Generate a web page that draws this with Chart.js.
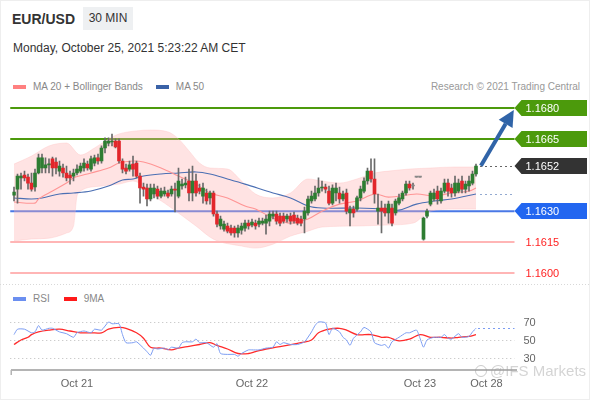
<!DOCTYPE html>
<html>
<head>
<meta charset="utf-8">
<script src="https://cdn.jsdelivr.net/npm/chart.js@4.4.0/dist/chart.umd.min.js"></script>
<style>
  body { margin: 0; background: #fff; font-family: "Liberation Sans", Arial, sans-serif; }
  #wrap { position: relative; width: 590px; height: 400px; overflow: hidden; box-shadow: inset 0 0 0 1px #eee; }
  .abs { position: absolute; white-space: nowrap; }
  .title { left: 12px; top: 12px; font-weight: bold; font-size: 14px; line-height: 14px; color: #333; }
  .tf { left: 83px; top: 7px; width: 50px; height: 23px; line-height: 23px; text-align: center; font-size: 12px; color: #333; background: #eef0f2; }
  .date { left: 13px; top: 42px; font-size: 12px; line-height: 12px; color: #333; }
  .leg { font-size: 10px; line-height: 12px; color: #888; display: flex; align-items: center; }
  .sw { display: inline-block; width: 13px; height: 4px; margin-right: 7px; }
  .wm { left: 475px; top: 362px; font-size: 15px; line-height: 18px; color: rgba(160,160,160,0.45); display: flex; align-items: center; }
  .wm i { display: inline-block; width: 10px; height: 10px; border: 1.5px solid rgba(160,160,160,0.55); border-radius: 50%; margin-right: 3px; }
  canvas { position: absolute; left: 0; }
</style>
</head>
<body>
<div id="wrap">
  <div class="abs title">EUR/USD</div>
  <div class="abs tf">30 MIN</div>
  <div class="abs date">Monday, October 25, 2021 5:23:22 AM CET</div>
  <div class="abs leg" style="left:13px;top:81px"><span class="sw" style="background:#ff8080"></span>MA 20 + Bollinger Bands<span class="sw" style="background:#3a62a7;margin-left:13px"></span>MA 50</div>
  <div class="abs leg" style="right:10px;top:81px;color:#999">Research © 2021 Trading Central</div>
  <div class="abs leg" style="left:13px;top:293px"><span class="sw" style="background:#6b8ff0"></span>RSI<span class="sw" style="background:#ff1a1a;margin-left:14px"></span>9MA</div>
  <canvas id="price" width="590" height="188" style="top:96px"></canvas>
  <canvas id="rsi" width="590" height="116" style="top:284px"></canvas>
  <div class="abs wm"><i></i>@IFS Markets</div>
</div>
<script>
// time slots on the x axis (candles + empty space to the right)
const slotCount = 144;
const tickIdx = [18, 68, 116, 135];
const tickText = ['Oct 21', 'Oct 22', 'Oct 23', 'Oct 28'];

// 30 min candles
const opens = [
  1.16378, 1.16407, 1.16461, 1.16475, 1.16465, 1.16436, 1.16417, 1.16485, 1.16509, 1.16509,
  1.16524, 1.16553, 1.16538, 1.16494, 1.16509, 1.16485, 1.16475, 1.16470, 1.16485, 1.16494,
  1.16509, 1.16528, 1.16504, 1.16533, 1.16558, 1.16543, 1.16606, 1.16630, 1.16635, 1.16640,
  1.16640, 1.16543, 1.16509, 1.16504, 1.16528, 1.16533, 1.16470, 1.16417, 1.16412, 1.16359,
  1.16383, 1.16407, 1.16373, 1.16383, 1.16388, 1.16383, 1.16407, 1.16373, 1.16422, 1.16427,
  1.16446, 1.16388, 1.16446, 1.16412, 1.16373, 1.16388, 1.16364, 1.16388, 1.16286, 1.16228,
  1.16213, 1.16228, 1.16218, 1.16218, 1.16194, 1.16208, 1.16218, 1.16242, 1.16233, 1.16242,
  1.16237, 1.16242, 1.16242, 1.16252, 1.16276, 1.16286, 1.16276, 1.16276, 1.16262, 1.16276,
  1.16281, 1.16267, 1.16262, 1.16262, 1.16291, 1.16349, 1.16359, 1.16388, 1.16412, 1.16417,
  1.16397, 1.16339, 1.16388, 1.16388, 1.16359, 1.16388, 1.16291, 1.16310, 1.16310, 1.16364,
  1.16397, 1.16446, 1.16494, 1.16456, 1.16300, 1.16315, 1.16315, 1.16291, 1.16315, 1.16291,
  1.16339, 1.16359, 1.16388, 1.16431, 1.16422, 1.16465, 1.16465, 1.16164, 1.16276, 1.16334,
  1.16359, 1.16397, 1.16349, 1.16397, 1.16436, 1.16412, 1.16388, 1.16397, 1.16446, 1.16407,
  1.16422, 1.16436, 1.16480
];
const highs = [
  1.16417, 1.16480, 1.16485, 1.16494, 1.16480, 1.16485, 1.16504, 1.16577, 1.16577, 1.16558,
  1.16553, 1.16562, 1.16558, 1.16543, 1.16528, 1.16519, 1.16494, 1.16504, 1.16524, 1.16533,
  1.16553, 1.16543, 1.16567, 1.16572, 1.16577, 1.16616, 1.16655, 1.16655, 1.16674, 1.16650,
  1.16650, 1.16553, 1.16528, 1.16543, 1.16567, 1.16543, 1.16485, 1.16436, 1.16431, 1.16431,
  1.16431, 1.16422, 1.16412, 1.16417, 1.16402, 1.16422, 1.16436, 1.16509, 1.16456, 1.16465,
  1.16504, 1.16519, 1.16480, 1.16431, 1.16436, 1.16407, 1.16397, 1.16397, 1.16300, 1.16276,
  1.16252, 1.16242, 1.16233, 1.16228, 1.16233, 1.16242, 1.16257, 1.16257, 1.16262, 1.16257,
  1.16267, 1.16267, 1.16281, 1.16300, 1.16300, 1.16300, 1.16291, 1.16291, 1.16286, 1.16291,
  1.16296, 1.16281, 1.16276, 1.16320, 1.16373, 1.16397, 1.16422, 1.16461, 1.16446, 1.16431,
  1.16422, 1.16427, 1.16436, 1.16417, 1.16397, 1.16407, 1.16325, 1.16325, 1.16373, 1.16422,
  1.16461, 1.16509, 1.16553, 1.16553, 1.16383, 1.16349, 1.16334, 1.16349, 1.16334, 1.16359,
  1.16383, 1.16397, 1.16446, 1.16446, 1.16436, 1.16465, 1.16465, 1.16271, 1.16310, 1.16397,
  1.16407, 1.16422, 1.16412, 1.16456, 1.16456, 1.16431, 1.16470, 1.16456, 1.16470, 1.16446,
  1.16470, 1.16494, 1.16528
];
const lows = [
  1.16349, 1.16339, 1.16407, 1.16446, 1.16407, 1.16397, 1.16397, 1.16480, 1.16485, 1.16485,
  1.16485, 1.16470, 1.16480, 1.16470, 1.16465, 1.16446, 1.16431, 1.16446, 1.16475, 1.16485,
  1.16494, 1.16499, 1.16494, 1.16519, 1.16528, 1.16533, 1.16582, 1.16616, 1.16616, 1.16606,
  1.16533, 1.16485, 1.16480, 1.16494, 1.16470, 1.16461, 1.16339, 1.16373, 1.16325, 1.16349,
  1.16364, 1.16359, 1.16364, 1.16373, 1.16364, 1.16373, 1.16296, 1.16364, 1.16407, 1.16412,
  1.16349, 1.16349, 1.16373, 1.16383, 1.16339, 1.16334, 1.16334, 1.16276, 1.16223, 1.16213,
  1.16203, 1.16194, 1.16184, 1.16174, 1.16174, 1.16189, 1.16203, 1.16213, 1.16223, 1.16213,
  1.16223, 1.16233, 1.16189, 1.16228, 1.16262, 1.16237, 1.16228, 1.16242, 1.16247, 1.16237,
  1.16242, 1.16233, 1.16228, 1.16194, 1.16281, 1.16339, 1.16349, 1.16373, 1.16397, 1.16388,
  1.16330, 1.16330, 1.16349, 1.16339, 1.16349, 1.16286, 1.16228, 1.16271, 1.16300, 1.16349,
  1.16388, 1.16431, 1.16441, 1.16339, 1.16237, 1.16194, 1.16276, 1.16242, 1.16228, 1.16281,
  1.16330, 1.16349, 1.16378, 1.16402, 1.16407, 1.16465, 1.16465, 1.16159, 1.16267, 1.16325,
  1.16349, 1.16334, 1.16339, 1.16388, 1.16373, 1.16368, 1.16373, 1.16388, 1.16388, 1.16388,
  1.16397, 1.16427, 1.16470
];
const closes = [
  1.16393, 1.16470, 1.16470, 1.16461, 1.16436, 1.16407, 1.16485, 1.16558, 1.16558, 1.16524,
  1.16526, 1.16509, 1.16509, 1.16519, 1.16485, 1.16461, 1.16461, 1.16485, 1.16504, 1.16519,
  1.16533, 1.16509, 1.16553, 1.16558, 1.16543, 1.16606, 1.16640, 1.16640, 1.16640, 1.16611,
  1.16543, 1.16504, 1.16494, 1.16524, 1.16504, 1.16470, 1.16412, 1.16407, 1.16359, 1.16412,
  1.16412, 1.16373, 1.16397, 1.16397, 1.16373, 1.16407, 1.16402, 1.16446, 1.16431, 1.16436,
  1.16388, 1.16446, 1.16388, 1.16397, 1.16412, 1.16349, 1.16388, 1.16286, 1.16237, 1.16262,
  1.16237, 1.16203, 1.16194, 1.16194, 1.16218, 1.16228, 1.16242, 1.16228, 1.16247, 1.16228,
  1.16252, 1.16252, 1.16262, 1.16286, 1.16286, 1.16252, 1.16242, 1.16252, 1.16276, 1.16252,
  1.16252, 1.16242, 1.16242, 1.16300, 1.16359, 1.16373, 1.16388, 1.16412, 1.16417, 1.16407,
  1.16339, 1.16412, 1.16412, 1.16359, 1.16383, 1.16300, 1.16310, 1.16291, 1.16364, 1.16407,
  1.16446, 1.16494, 1.16456, 1.16383, 1.16315, 1.16300, 1.16291, 1.16334, 1.16242, 1.16349,
  1.16364, 1.16388, 1.16431, 1.16412, 1.16422, 1.16465, 1.16465, 1.16267, 1.16300, 1.16388,
  1.16388, 1.16359, 1.16397, 1.16436, 1.16397, 1.16388, 1.16436, 1.16436, 1.16407, 1.16431,
  1.16446, 1.16480, 1.16519
];

// Bollinger bands, MA 20, MA 50 (read at sample candles)
const upperIdx = [0, 5, 10, 15, 19, 23, 27, 30, 35, 39, 44, 47, 50, 53, 56, 61, 65, 69, 74, 79, 84, 88, 93, 98, 103, 107, 113, 119, 126, 132];
const upperBand = [1.16528, 1.16567, 1.16616, 1.16630, 1.16572, 1.16606, 1.16650, 1.16674, 1.16689, 1.16693,
  1.16684, 1.16650, 1.16592, 1.16533, 1.16509, 1.16504, 1.16446, 1.16383, 1.16364, 1.16388,
  1.16456, 1.16446, 1.16436, 1.16456, 1.16485, 1.16494, 1.16504, 1.16509, 1.16514, 1.16514];
const lowerIdx = [0, 5, 10, 15, 17, 18, 19, 25, 30, 34, 37, 40, 43, 47, 52, 57, 65, 69, 74, 79, 84, 88, 98, 107, 114, 119, 126, 132];
const lowerBand = [1.16155, 1.16165, 1.16169, 1.16194, 1.16228, 1.16373, 1.16398, 1.16422, 1.16431, 1.16446,
  1.16422, 1.16373, 1.16339, 1.16291, 1.16228, 1.16164, 1.16131, 1.16121, 1.16140, 1.16179,
  1.16203, 1.16223, 1.16228, 1.16233, 1.16242, 1.16300, 1.16310, 1.16310];
const ma20Idx = [0, 6, 7, 11, 15, 17, 22, 27, 30, 34, 37, 42, 47, 52, 56, 61, 66, 69, 74, 79, 84, 88, 93, 98, 103, 107, 115, 120, 125, 130, 132];
const ma20 = [1.16344, 1.16339, 1.16359, 1.16398, 1.16436, 1.16461, 1.16485, 1.16509, 1.16533, 1.16543,
  1.16538, 1.16509, 1.16470, 1.16431, 1.16388, 1.16364, 1.16325, 1.16310, 1.16267, 1.16242,
  1.16262, 1.16300, 1.16334, 1.16349, 1.16383, 1.16368, 1.16383, 1.16373, 1.16388, 1.16398, 1.16412];
const ma50Idx = [0, 5, 8, 13, 17, 22, 27, 31, 34, 37, 42, 47, 52, 56, 61, 66, 74, 79, 84, 88, 98, 107, 110, 115, 120, 125, 132];
const ma50 = [1.16364, 1.16359, 1.16364, 1.16383, 1.16388, 1.16398, 1.16422, 1.16451, 1.16456, 1.16470,
  1.16480, 1.16485, 1.16490, 1.16480, 1.16456, 1.16431, 1.16388, 1.16364, 1.16325, 1.16315,
  1.16315, 1.16310, 1.16305, 1.16334, 1.16349, 1.16359, 1.16383];

// key levels
const targets = [1.1680, 1.1665];
const lastPrice = 1.1652;
const pivot = 1.1630;
const supports = [1.1615, 1.1600];
const arrowFrom = [133.4, 1.1652];
const arrowTo = [142.8, 1.1679];

// RSI panel
const rsiIdx = [0, 1, 3, 5, 6, 7, 8, 10, 11, 13, 15, 17, 18, 20, 22, 23, 25, 27, 28, 30,
  31, 32, 34, 35, 37, 38, 39, 40, 41, 43, 44, 45, 47, 48, 49, 51, 52, 53, 55, 57,
  58, 59, 61, 63, 64, 65, 67, 68, 70, 72, 74, 75, 76, 77, 79, 81, 83, 85, 86, 87,
  89, 90, 91, 93, 94, 95, 96, 97, 99, 100, 102, 103, 105, 106, 107, 108, 110, 112, 113, 115,
  116, 117, 118, 120, 122, 123, 124, 125, 127, 128, 130, 131, 132];
const rsiVal = [56, 62, 62, 58, 59, 66, 61, 63, 63, 59, 57, 53, 58, 60, 58, 62, 61, 70, 68, 68,
  56, 47, 47, 48, 41, 37, 33, 41, 40, 41, 39, 42, 41, 47, 48, 48, 51, 47, 47, 42,
  46, 35, 34, 34, 32, 35, 39, 39, 39, 41, 42, 48, 45, 47, 45, 45, 48, 59, 66, 70,
  69, 56, 63, 59, 53, 50, 44, 52, 59, 64, 59, 47, 44, 45, 41, 48, 53, 58, 58, 61,
  52, 42, 50, 53, 53, 56, 52, 51, 57, 53, 54, 59, 63];
const ma9Idx = [0, 2, 4, 5, 7, 10, 13, 16, 19, 22, 25, 27, 30, 32, 35, 37, 39, 42, 45, 47,
  50, 53, 56, 58, 61, 64, 67, 69, 72, 75, 78, 82, 85, 87, 90, 93, 95, 98, 102, 105,
  107, 110, 113, 116, 119, 122, 125, 127, 130, 132];
const ma9 = [45, 50, 53, 56, 59, 61, 62, 60, 58, 58, 58, 62, 64, 63, 58, 52, 42, 41, 39, 41,
  43, 45, 47, 44, 40, 35, 35, 37, 40, 42, 44, 47, 50, 58, 62, 63, 61, 56, 56, 53,
  53, 49, 51, 56, 53, 53, 52, 53, 54, 56];
const rsiLevels = [70, 50, 30];

// ---------------------------------------------------------------
const FONT = '"Liberation Sans", Arial, sans-serif';
Chart.defaults.font.family = FONT;

const xLabels = [];
for (let i = 0; i < slotCount; i++) xLabels.push('');
tickIdx.forEach((t, k) => { xLabels[t] = tickText[k]; });

function pts(idx, vals) {
  return idx.map((x, k) => ({ x: x, y: vals[k] }));
}

function dotted(ctx, x0, x1, y, color, dash) {
  ctx.save();
  ctx.strokeStyle = color;
  ctx.lineWidth = 1;
  ctx.setLineDash(dash || [2, 2]);
  ctx.beginPath();
  ctx.moveTo(x0, Math.round(y) + 0.5);
  ctx.lineTo(x1, Math.round(y) + 0.5);
  ctx.stroke();
  ctx.restore();
}

const upColor = '#2e7d32', downColor = '#e2262b', flatColor = '#888';
const bodyColors = closes.map((c, i) => c > opens[i] ? upColor : (c < opens[i] ? downColor : flatColor));

const priceLevels = {
  id: 'priceLevels',
  beforeDatasetsDraw(chart) {
    const ctx = chart.ctx, xs = chart.scales.x, ys = chart.scales.y;
    const x0 = chart.chartArea.left - 2, x1 = xs.getPixelForValue(slotCount - 1);
    const lines = [
      [targets[0], '#4c9a0c', 2], [targets[1], '#4c9a0c', 2],
      [pivot, '#4a78e6', 2],
      [supports[0], '#ff9c9c', 1.5], [supports[1], '#ff9c9c', 1.5]
    ];
    ctx.save();
    lines.forEach(l => {
      const y = ys.getPixelForValue(l[0]);
      ctx.strokeStyle = l[1];
      ctx.lineWidth = l[2];
      ctx.beginPath();
      ctx.moveTo(x0, y);
      ctx.lineTo(x1, y);
      ctx.stroke();
    });
    ctx.restore();
  },
  afterDatasetsDraw(chart) {
    const ctx = chart.ctx, xs = chart.scales.x, ys = chart.scales.y;
    const xEnd = xs.getPixelForValue(slotCount - 1);
    const last = closes.length - 1;
    const xLast = xs.getPixelForValue(last) + 4;
    dotted(ctx, xLast, xEnd, ys.getPixelForValue(closes[last]), '#666', [2, 3]);
    dotted(ctx, xLast, xEnd, ys.getPixelForValue(ma50[ma50.length - 1]), '#93a9d0', [2, 3]);

    // arrow
    const ax0 = xs.getPixelForValue(arrowFrom[0]), ay0 = ys.getPixelForValue(arrowFrom[1]);
    const ax1 = xs.getPixelForValue(arrowTo[0]), ay1 = ys.getPixelForValue(arrowTo[1]);
    const ang = Math.atan2(ay1 - ay0, ax1 - ax0);
    const head = 16, half = 8;
    const bx = ax1 - head * Math.cos(ang), by = ay1 - head * Math.sin(ang);
    ctx.save();
    ctx.strokeStyle = '#3064a8';
    ctx.fillStyle = '#3064a8';
    ctx.lineWidth = 4;
    ctx.beginPath();
    ctx.moveTo(ax0, ay0);
    ctx.lineTo(bx, by);
    ctx.stroke();
    ctx.beginPath();
    ctx.moveTo(ax1, ay1);
    ctx.lineTo(bx + half * Math.sin(ang), by - half * Math.cos(ang));
    ctx.lineTo(bx - half * Math.sin(ang), by + half * Math.cos(ang));
    ctx.closePath();
    ctx.fill();
    ctx.restore();

    // level tags
    const tags = [
      [targets[0], '#4c9a0c'], [targets[1], '#4c9a0c'],
      [lastPrice, '#333333'], [pivot, '#2266f0']
    ];
    ctx.save();
    ctx.font = '11px ' + FONT;
    ctx.textBaseline = 'middle';
    tags.forEach(t => {
      const y = Math.round(ys.getPixelForValue(t[0]));
      ctx.fillStyle = t[1];
      ctx.beginPath();
      ctx.moveTo(xEnd, y);
      ctx.lineTo(xEnd + 7, y - 8);
      ctx.lineTo(587, y - 8);
      ctx.lineTo(587, y + 8);
      ctx.lineTo(xEnd + 7, y + 8);
      ctx.closePath();
      ctx.fill();
      ctx.fillStyle = '#fff';
      ctx.fillText(t[0].toFixed(4), xEnd + 11, y + 0.5);
    });
    ctx.fillStyle = '#ff1f1f';
    supports.forEach(s => {
      ctx.fillText(s.toFixed(4), xEnd + 11, ys.getPixelForValue(s) + 0.5);
    });
    ctx.restore();
  }
};

new Chart(document.getElementById('price'), {
  type: 'bar',
  data: {
    labels: xLabels,
    datasets: [
      {
        data: opens.map((o, i) => [o, closes[i]]),
        backgroundColor: bodyColors,
        barThickness: 3,
        minBarLength: 1,
        grouped: false,
        order: 1
      },
      {
        data: lows.map((l, i) => [l, highs[i]]),
        backgroundColor: '#6a6a6a',
        barThickness: 1,
        grouped: false,
        order: 2
      },
      {
        type: 'line',
        parsing: false,
        data: pts(upperIdx, upperBand),
        borderColor: 'rgba(255,190,190,0.35)',
        borderWidth: 1,
        pointRadius: 0,
        cubicInterpolationMode: 'monotone',
        fill: false,
        order: 5
      },
      {
        type: 'line',
        parsing: false,
        data: pts(lowerIdx, lowerBand),
        borderColor: 'rgba(255,190,190,0.35)',
        borderWidth: 1,
        pointRadius: 0,
        cubicInterpolationMode: 'monotone',
        fill: '-1',
        backgroundColor: 'rgba(255,175,175,0.35)',
        order: 5
      },
      {
        type: 'line',
        parsing: false,
        data: pts(ma20Idx, ma20),
        borderColor: '#ff9595',
        borderWidth: 1.1,
        pointRadius: 0,
        tension: 0.35,
        order: 3
      },
      {
        type: 'line',
        parsing: false,
        data: pts(ma50Idx, ma50),
        borderColor: '#4b6fb3',
        borderWidth: 1.1,
        pointRadius: 0,
        tension: 0.35,
        order: 3
      }
    ]
  },
  options: {
    responsive: false,
    animation: false,
    layout: { padding: { left: 12.25, right: 73.75, top: 0, bottom: 0 } },
    plugins: { legend: { display: false }, tooltip: { enabled: false } },
    scales: {
      x: { type: 'category', display: false, offset: true },
      y: { display: false, min: 1.15947, max: 1.16858 }
    }
  },
  plugins: [priceLevels]
});

const rsiDecor = {
  id: 'rsiDecor',
  beforeDatasetsDraw(chart) {
    const ctx = chart.ctx, xs = chart.scales.x, ys = chart.scales.y;
    const x0 = chart.chartArea.left - 2, x1 = xs.getPixelForValue(slotCount - 1);
    dotted(ctx, 0, 590, -0.5, '#d8d8d8', [1, 2]);
    rsiLevels.forEach(l => dotted(ctx, x0, x1, ys.getPixelForValue(l), '#bbbbbb', [1, 3]));
  },
  afterDatasetsDraw(chart) {
    const ctx = chart.ctx, xs = chart.scales.x, ys = chart.scales.y;
    const xEnd = xs.getPixelForValue(slotCount - 1);
    const lastI = rsiIdx[rsiIdx.length - 1];
    dotted(ctx, xs.getPixelForValue(lastI) + 2, xEnd, ys.getPixelForValue(rsiVal[rsiVal.length - 1]), '#7b9cf2', [2, 3]);
    ctx.save();
    ctx.font = '11px ' + FONT;
    ctx.fillStyle = '#666';
    ctx.textBaseline = 'middle';
    rsiLevels.forEach(l => ctx.fillText(String(l), xEnd + 9, ys.getPixelForValue(l) + 0.5));
    ctx.strokeStyle = '#b4b4b4';
    ctx.lineWidth = 1.5;
    ctx.beginPath();
    ctx.moveTo(chart.chartArea.left - 1, chart.chartArea.bottom);
    ctx.lineTo(chart.chartArea.left - 1, chart.chartArea.bottom + 5);
    ctx.stroke();
    ctx.restore();
  }
};

new Chart(document.getElementById('rsi'), {
  type: 'line',
  data: {
    labels: xLabels,
    datasets: [
      {
        parsing: false,
        data: pts(rsiIdx, rsiVal),
        borderColor: '#7b9cf2',
        borderWidth: 1,
        pointRadius: 0,
        tension: 0.2
      },
      {
        parsing: false,
        data: pts(ma9Idx, ma9),
        borderColor: '#ff2a2a',
        borderWidth: 1.3,
        pointRadius: 0,
        tension: 0.35
      }
    ]
  },
  options: {
    responsive: false,
    animation: false,
    layout: { padding: { left: 12.25, right: 73.75, top: 0, bottom: 0 } },
    plugins: { legend: { display: false }, tooltip: { enabled: false } },
    scales: {
      x: {
        type: 'category',
        offset: true,
        grid: { display: false, drawTicks: false },
        border: { color: '#b4b4b4', width: 2 },
        ticks: { autoSkip: false, maxRotation: 0, padding: 7, color: '#666', font: { size: 11 } },
        afterFit(scale) { scale.height = 30; }
      },
      y: { display: false, min: 16.67, max: 112.2 }
    }
  },
  plugins: [rsiDecor]
});
</script>
</body>
</html>
